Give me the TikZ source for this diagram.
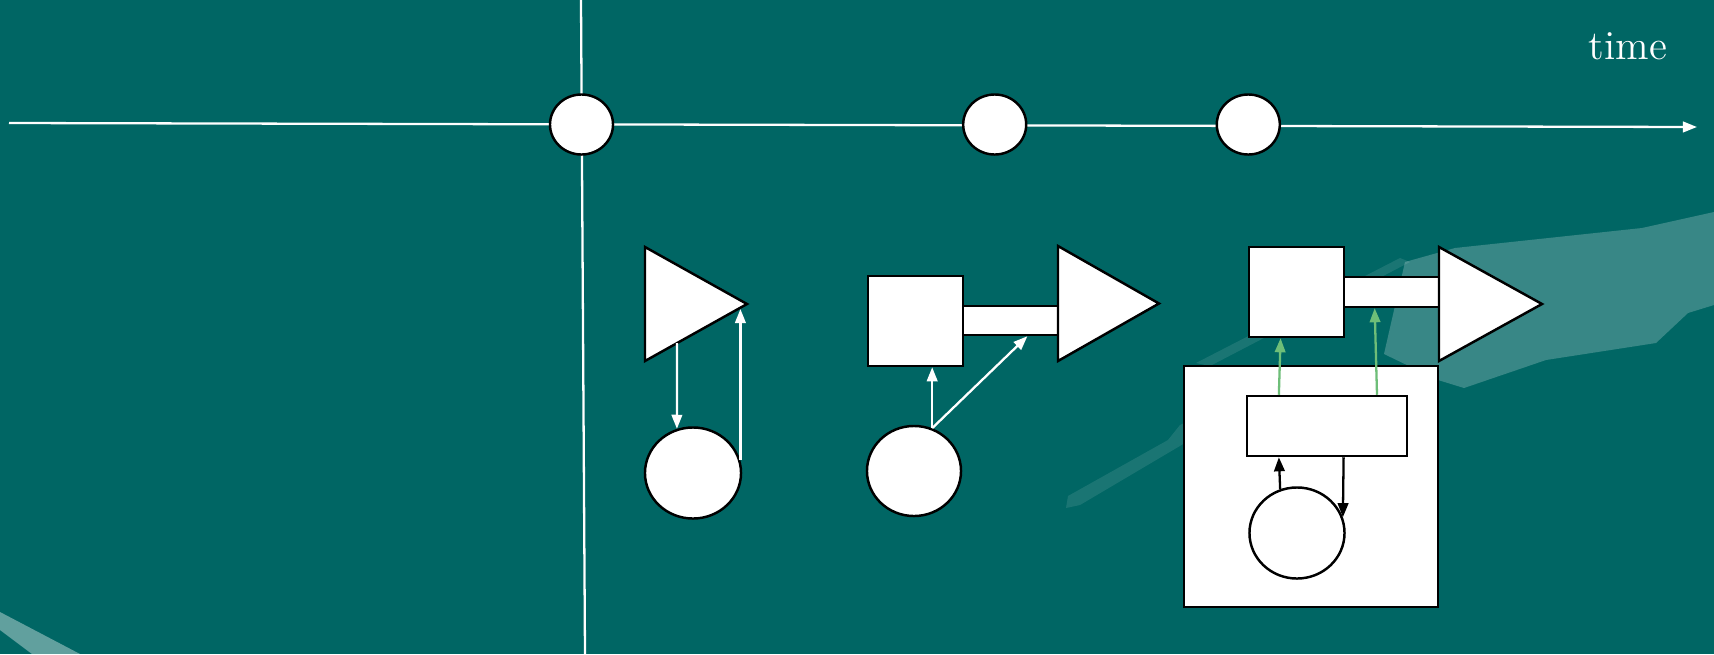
\documentclass[tikz,border=0pt]{standalone}
\usepackage{tikz}
\usetikzlibrary{arrows.meta}
\usetikzlibrary{shapes.geometric}
\definecolor{fundo}{RGB}{0,102,100}
\definecolor{verde}{RGB}{110,190,120}
\tikzset{
  caixa/.style 2 args={draw, fill=white, line width=0.7pt, inner sep=0pt, minimum width=#1, minimum height=#2},
  bola/.style 2 args={ellipse, draw, fill=white, line width=0.7pt, inner sep=0pt, minimum width=#1, minimum height=#2},
  marco/.style={ellipse, draw, fill=white, line width=0.7pt, inner sep=0pt, minimum width=0.63cm, minimum height=0.60cm},
  tri/.style={draw, fill=white, line width=0.7pt, line join=miter},
  eixo/.style={white, line width=0.65pt},
  seta/.style={-{Triangle[length=4pt,width=3pt]}, white, line width=0.65pt},
  setapreta/.style={-{Triangle[length=4pt,width=3pt]}, black, line width=0.65pt},
  setaverde/.style={-{Triangle[length=4pt,width=3pt]}, verde, line width=0.65pt},
  brilho/.style={fill=white, fill opacity=#1},
}

\begin{document}
\begin{tikzpicture}[x=0.01cm, y=-0.01cm]
  \fill[fundo] (0,0) rectangle (1714,654);
  \useasboundingbox (0,0) rectangle (1714,654);

  \fill[brilho=0.38] (0,612) -- (80,654) -- (32,654) -- (0,630) -- cycle;
  \fill[brilho=0.22] (1384,354) -- (1405,262) -- (1455,248) -- (1642,228) -- (1714,212) -- (1714,305) -- (1688,313) -- (1656,343) -- (1546,360) -- (1464,388) -- (1438,380) -- cycle;
  \fill[brilho=0.1] (1066,508) -- (1068,496) -- (1168,440) -- (1180,425) -- (1200,415) -- (1190,440) -- (1080,505) -- cycle;
  \fill[brilho=0.1] (1196,363) -- (1400,258) -- (1410,262) -- (1210,366) -- cycle;

  \coordinate (ini) at (9,123);
  \coordinate (fim) at (1697,127);
  \coordinate (topo) at (581,0);
  \coordinate (base) at (585,654);
  \draw[eixo] (topo) -- (base);
  \draw[eixo, -{Triangle[length=4pt,width=3pt]}] (ini) -- (fim);
  \node[marco] (m1) at (581.5,124.5) {};
  \node[marco] (m2) at (994.7,124.5) {};
  \node[marco] (m3) at (1248.3,124.5) {};
  \node[white, anchor=base, font=\fontsize{11.7}{14}\selectfont] (rotulo) at (1628,59) {time};

  \draw[tri] (645,247) -- (645,361) -- (747,304) -- cycle;
  \node[bola={0.96cm}{0.91cm}] (c1) at (693,473) {};
  \coordinate (g1) at (677,343);
  \coordinate (g2) at (741,309);
  \draw[seta] (g1) -- (c1.110);
  \draw[seta] (c1.15) -- (c1.15 |- g2);

  \node[caixa={0.95cm}{0.90cm}] (q2) at (915.5,321) {};
  \node[caixa={0.95cm}{0.29cm}] (b2) at (1010.5,320.5) {};
  \draw[tri] (1058,246) -- (1058,361) -- (1159,303.5) -- cycle;
  \node[bola={0.94cm}{0.90cm}] (c2) at (914,471) {};
  \draw[seta] (c2.67) -- (c2.67 |- q2.south);
  \draw[seta] (c2.67) -- (b2.-43);

  \node[caixa={0.95cm}{0.90cm}] (q3) at (1296.5,292) {};
  \node[caixa={0.95cm}{0.30cm}] (b3) at (1391.5,292) {};
  \draw[tri] (1439,247) -- (1439,361) -- (1542,304) -- cycle;
  \node[caixa={2.54cm}{2.41cm}] (caixa3) at (1311,486.5) {};
  \node[caixa={1.60cm}{0.60cm}] (r3) at (1327,426) {};
  \node[bola={0.95cm}{0.91cm}] (c3) at (1297,533) {};
  \draw[setaverde] (r3.147) -- (q3.-109);
  \draw[setaverde] (r3.32) -- (b3.-136);
  \draw[setapreta] (c3.111) -- (r3.-147);
  \draw[setapreta] (r3.-62) -- (c3.19);
\end{tikzpicture}
\end{document}
